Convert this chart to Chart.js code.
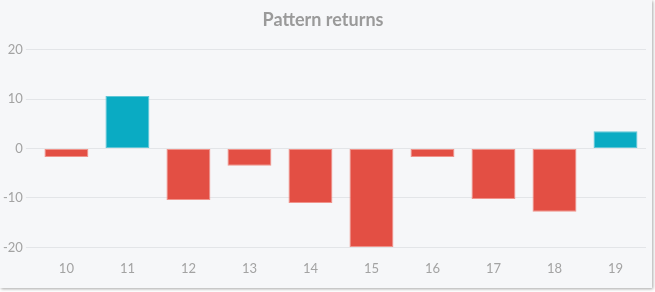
<!DOCTYPE html>
<html>
<head>
<meta charset="utf-8">
<script src="https://cdn.jsdelivr.net/npm/chart.js@4"></script>
<style>
  html, body { margin: 0; padding: 0; background: #ffffff; }
  #card {
    position: absolute; left: 0; top: 0;
    width: 652px; height: 288px;
    background: #f6f7f9;
    box-shadow: 1px 1px 3px rgba(0, 0, 0, 0.35);
  }
  #chartCanvas { display: block; }
</style>
</head>
<body>
<div id="card"><canvas id="chartCanvas" width="652" height="288"></canvas></div>
<script>
"use strict";

const categories = ["10", "11", "12", "13", "14", "15", "16", "17", "18", "19"];
const returns = [-1.7, 10.6, -10.4, -3.5, -11.0, -19.9, -1.7, -10.2, -12.8, 3.5];
const yTicks = [-20, -10, 0, 10, 20];

const upColor = "#0aabc3";
const downColor = "#e34f44";
const upBorder = "#5fc6d6";
const downBorder = "#f0938b";

const ctx = document.getElementById("chartCanvas").getContext("2d");

new Chart(ctx, {
  type: "bar",
  data: {
    labels: categories,
    datasets: [
      {
        label: "Returns",
        data: returns,
        backgroundColor: returns.map((v) => (v >= 0 ? upColor : downColor)),
        borderColor: returns.map((v) => (v >= 0 ? upBorder : downBorder)),
        borderWidth: 1,
        borderSkipped: false,
      },
    ],
  },
  options: {
    responsive: false,
    animation: false,
    layout: { padding: { left: 0, right: 6, top: 0, bottom: 5 } },
    plugins: {
      legend: { display: false },
      tooltip: { enabled: false },
      title: {
        display: true,
        text: "Pattern returns",
        color: "#9a9a9a",
        font: { family: "Lato", size: 18, weight: "bold" },
        padding: { top: 9, bottom: 19 },
      },
    },
    scales: {
      x: {
        grid: { display: false },
        border: { display: false },
        ticks: {
          color: "#a3a3a3",
          font: { family: "Lato", size: 13 },
          padding: 6,
        },
      },
      y: {
        min: -20,
        max: 20,
        border: { display: false },
        grid: { color: "#e3e5e8", tickLength: 10 },
        afterBuildTicks: (axis) => {
          axis.ticks = yTicks.map((v) => ({ value: v }));
        },
        ticks: {
          color: "#a3a3a3",
          font: { family: "Lato", size: 13 },
          padding: 3,
        },
      },
    },
  },
});
</script>
</body>
</html>
